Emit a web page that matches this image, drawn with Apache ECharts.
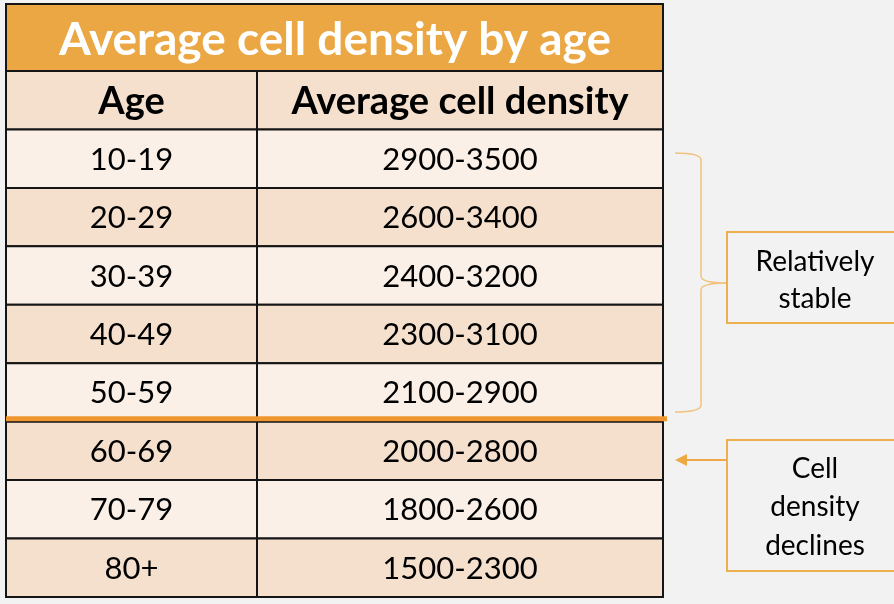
<!DOCTYPE html>
<html>
<head>
<meta charset="utf-8">
<script src="https://cdn.jsdelivr.net/npm/echarts@6/dist/echarts.min.js"></script>
<style>
html, body { margin: 0; padding: 0; background: #f2f2f2; }
#main { width: 894px; height: 604px; }
</style>
</head>
<body>
<div id="main"></div>
<script>
// table data
var titleText = 'Average cell density by age';
var headers = ['Age', 'Average cell density'];
var ages = ['10-19', '20-29', '30-39', '40-49', '50-59', '60-69', '70-79', '80+'];
var densityLow = [2900, 2600, 2400, 2300, 2100, 2000, 1800, 1500];
var densityHigh = [3500, 3400, 3200, 3100, 2900, 2800, 2600, 2300];
var declineFrom = '60-69';
var stableNote = 'Relatively\nstable';
var declineNote = 'Cell\ndensity\ndeclines';

// layout
var colSplit = 251 / 657;
var FONT = 'Lato, "Open Sans", sans-serif';
var braceColor = '#f2c27f';

var rowNames = ['header'].concat(ages);
var cells = [];
rowNames.forEach(function (name, r) {
	cells.push([0, r]);
	cells.push([1, r]);
});
var declineRow = rowNames.indexOf(declineFrom);

function cellText(c, r) {
	if (r === 0) return headers[c];
	if (c === 0) return ages[r - 1];
	return densityLow[r - 1] + '-' + densityHigh[r - 1];
}

function renderCell(params, api) {
	var c = api.value(0);
	var r = api.value(1);
	var xs = [0, colSplit, 1];
	var p0 = api.coord([xs[c], r]);
	var p1 = api.coord([xs[c + 1], r]);
	var h = api.size([0, 1])[1];
	var fill = r === 0 ? '#f5e0ce' : (r % 2 === 1 ? '#faf0e8' : '#f5e0ce');
	return {
		type: 'group',
		children: [{
			type: 'rect',
			shape: { x: p0[0], y: p0[1] - h / 2, width: p1[0] - p0[0], height: h },
			style: { fill: fill, stroke: '#151515', lineWidth: 2 }
		}, {
			type: 'text',
			x: (p0[0] + p1[0]) / 2,
			y: p0[1] + (r === 0 ? 2 : 1),
			style: {
				text: cellText(c, r),
				fill: '#000',
				font: (r === 0 ? 'bold 38px ' : '31px ') + FONT,
				align: 'center',
				verticalAlign: 'middle'
			}
		}]
	};
}

function renderSeparator(params, api) {
	var r = api.value(1);
	var h = api.size([0, 1])[1];
	var pl = api.coord([0, r]);
	var pr = api.coord([1, r]);
	var y = pl[1] - h / 2 - 3;
	return {
		type: 'line',
		shape: { x1: pl[0], y1: y, x2: pr[0] + 4, y2: y },
		style: { stroke: '#f0962e', lineWidth: 5 }
	};
}

function braceCurve(x1, y1, cx, cy, x2, y2) {
	return {
		type: 'bezierCurve',
		shape: { x1: x1, y1: y1, cpx1: cx, cpy1: cy, x2: x2, y2: y2 },
		style: { fill: null, stroke: braceColor, lineWidth: 1.5 },
		z: 5
	};
}
function braceLine(x1, y1, x2, y2) {
	return {
		type: 'line',
		shape: { x1: x1, y1: y1, x2: x2, y2: y2 },
		style: { stroke: braceColor, lineWidth: 1.5 },
		z: 5
	};
}

var myChart = echarts.init(document.getElementById('main'));
var option = {
	backgroundColor: '#f2f2f2',
	animation: false,
	grid: { left: 6, top: 71, right: 231, bottom: 7 },
	xAxis: { type: 'value', min: 0, max: 1, show: false },
	yAxis: { type: 'category', data: rowNames, inverse: true, show: false },
	series: [{
		type: 'custom',
		renderItem: renderCell,
		data: cells,
		encode: { x: 0, y: 1 },
		z: 2
	}, {
		type: 'custom',
		renderItem: renderSeparator,
		data: [[0, declineRow]],
		encode: { x: 0, y: 1 },
		z: 3
	}],
	graphic: [{
		type: 'rect',
		shape: { x: 6, y: 4, width: 657, height: 67 },
		style: { fill: '#eaa743', stroke: '#151515', lineWidth: 2 },
		z: 5
	}, {
		type: 'text',
		x: 335, y: 40,
		style: {
			text: titleText, fill: '#fff', font: 'bold 46px ' + FONT,
			align: 'center', verticalAlign: 'middle'
		},
		z: 6
	},
	// brace
	braceCurve(675, 153, 701, 153, 701, 160),
	braceLine(701, 160, 701, 276),
	braceCurve(701, 276, 701, 283, 727, 283),
	braceCurve(727, 283, 701, 283, 701, 290),
	braceLine(701, 290, 701, 405),
	braceCurve(701, 405, 701, 412, 675, 412),
	{
		type: 'rect',
		shape: { x: 727, y: 232, width: 200, height: 91 },
		style: { fill: '#f2f2f2', stroke: '#edb04f', lineWidth: 2 },
		z: 5
	}, {
		type: 'text',
		x: 815, y: 280,
		style: {
			text: stableNote, fill: '#000', font: '28px ' + FONT,
			lineHeight: 37, align: 'center', verticalAlign: 'middle'
		},
		z: 6
	}, {
		type: 'rect',
		shape: { x: 727, y: 440, width: 200, height: 131 },
		style: { fill: '#f2f2f2', stroke: '#edb04f', lineWidth: 2 },
		z: 5
	}, {
		type: 'text',
		x: 815, y: 507,
		style: {
			text: declineNote, fill: '#000', font: '28px ' + FONT,
			lineHeight: 38.5, align: 'center', verticalAlign: 'middle'
		},
		z: 6
	}, {
		// arrow
		type: 'line',
		shape: { x1: 727, y1: 460, x2: 686, y2: 460 },
		style: { stroke: '#eda946', lineWidth: 2 },
		z: 5
	}, {
		type: 'polygon',
		shape: { points: [[675, 460], [687, 454], [687, 466]] },
		style: { fill: '#eda946' },
		z: 5
	}]
};
myChart.setOption(option);
</script>
</body>
</html>
